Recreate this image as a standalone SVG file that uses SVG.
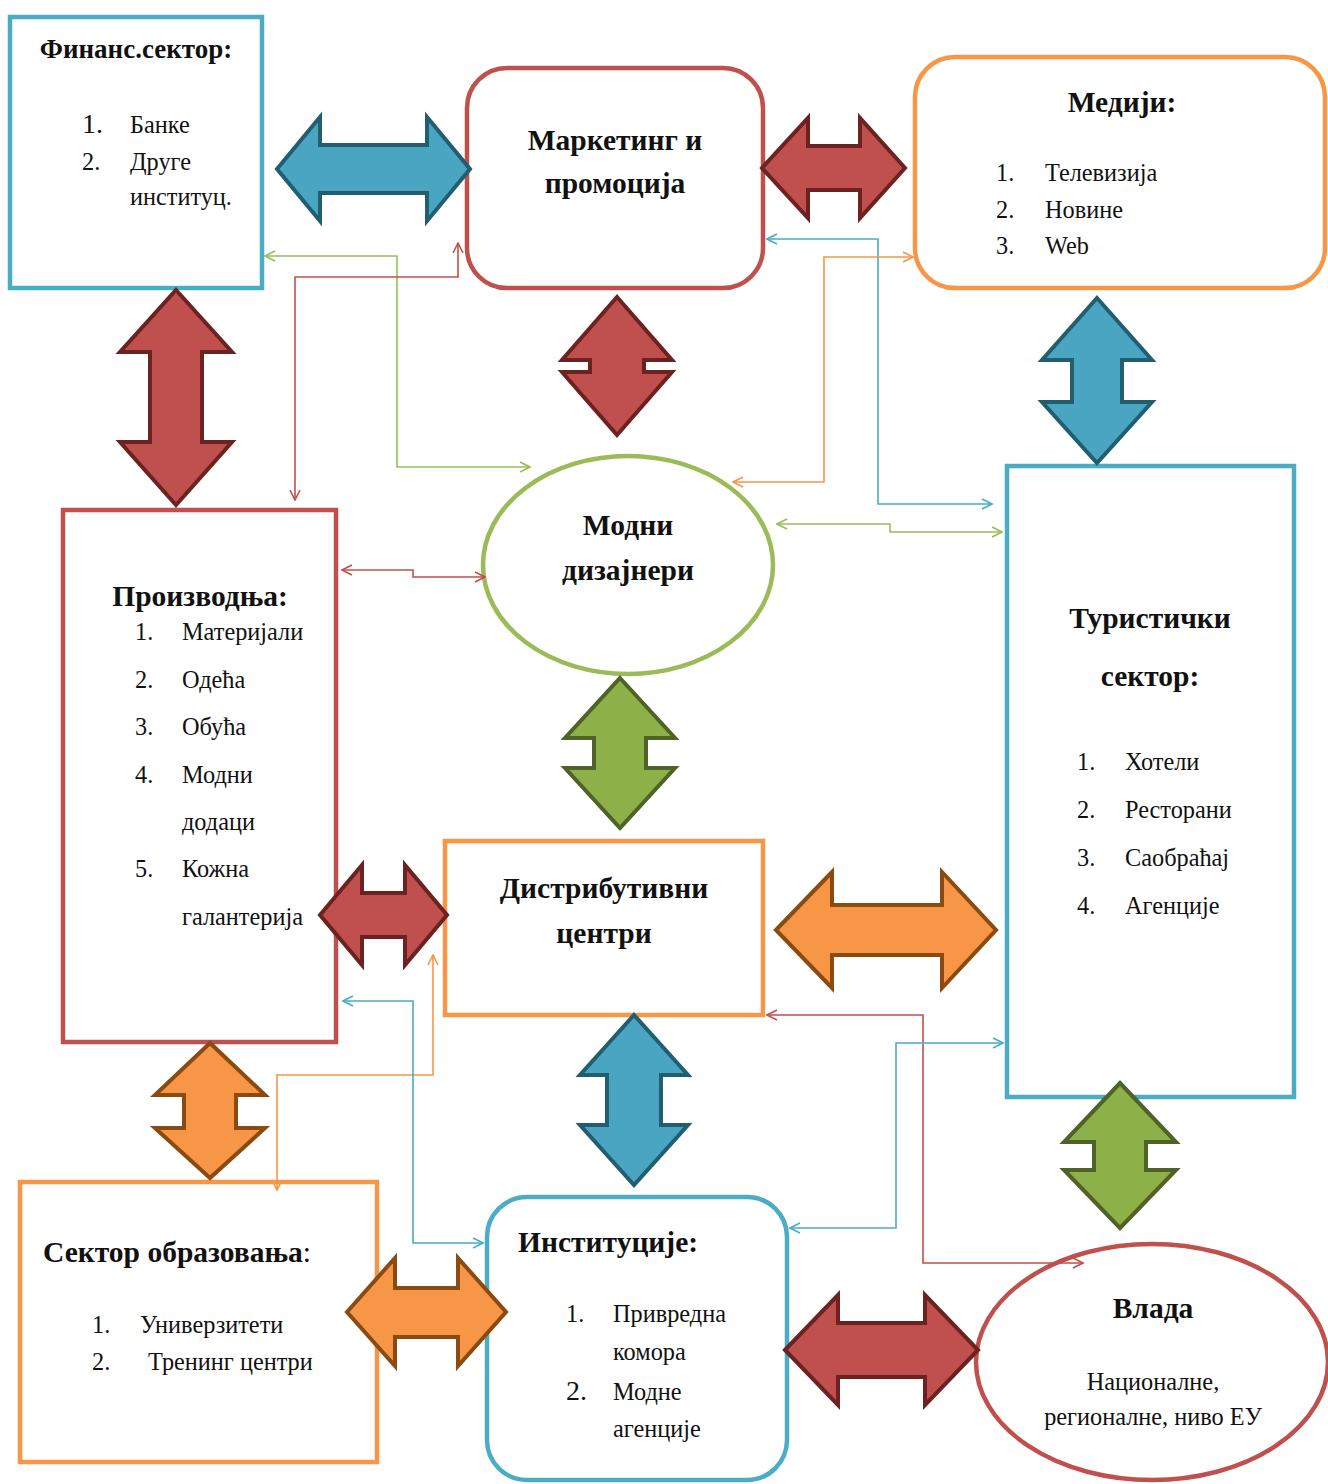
<svg xmlns="http://www.w3.org/2000/svg" width="1328" height="1484" viewBox="0 0 1328 1484">
<style>
.t{font-family:"Liberation Serif","Times New Roman",serif;fill:#111}
.b{font-weight:bold;font-size:29.5px}
.n{font-size:24.3px}
.box{fill:#fff;stroke-width:4.5}
.blue{stroke:#4bacc6}.red{stroke:#c0504d}.orange{stroke:#f79646}.green{stroke:#9bbb59}
.ab{stroke-width:4;stroke-linejoin:miter}
.abBlue{fill:#4aa5c2;stroke:#215e70}
.abRed{fill:#c0504d;stroke:#6b2220}
.abGreen{fill:#8db048;stroke:#4f6228}
.abOrange{fill:#f79646;stroke:#8a4a10}
.c{fill:none;stroke-width:1.6}
</style>
<defs>
<marker id="mB" viewBox="0 0 12 12" refX="11" refY="6" markerWidth="12" markerHeight="12" markerUnits="userSpaceOnUse" orient="auto-start-reverse"><path d="M1,1 L11,6 L1,11" fill="none" stroke="#4bacc6" stroke-width="1.6"/></marker>
<marker id="mR" viewBox="0 0 12 12" refX="11" refY="6" markerWidth="12" markerHeight="12" markerUnits="userSpaceOnUse" orient="auto-start-reverse"><path d="M1,1 L11,6 L1,11" fill="none" stroke="#c0504d" stroke-width="1.6"/></marker>
<marker id="mG" viewBox="0 0 12 12" refX="11" refY="6" markerWidth="12" markerHeight="12" markerUnits="userSpaceOnUse" orient="auto-start-reverse"><path d="M1,1 L11,6 L1,11" fill="none" stroke="#9bbb59" stroke-width="1.6"/></marker>
<marker id="mO" viewBox="0 0 12 12" refX="11" refY="6" markerWidth="12" markerHeight="12" markerUnits="userSpaceOnUse" orient="auto-start-reverse"><path d="M1,1 L11,6 L1,11" fill="none" stroke="#f79646" stroke-width="1.6"/></marker>
</defs>
<rect width="1328" height="1484" fill="#fff"/>

<g id="node-finans">
<rect class="box blue" x="10" y="17" width="252" height="271"/>
<text class="t b" x="136" y="58" text-anchor="middle" style="font-size:27px">Финанс.сектор:</text>
<text class="t n" x="82" y="133" style="font-size:28px">1.</text><text class="t n" x="130" y="133">Банке</text>
<text class="t n" x="82" y="170">2.</text><text class="t n" x="130" y="170">Друге</text>
<text class="t n" x="130" y="205">институц.</text>
</g>

<g id="node-marketing">
<rect class="box red" x="467" y="68" width="296" height="220" rx="40"/>
<text class="t b" x="615" y="150" text-anchor="middle">Маркетинг и</text>
<text class="t b" x="615" y="193" text-anchor="middle">промоција</text>
</g>

<g id="node-mediji">
<rect class="box orange" x="915" y="57" width="410" height="231" rx="40"/>
<text class="t b" x="1122" y="112" text-anchor="middle">Медији:</text>
<text class="t n" x="996" y="181">1.</text><text class="t n" x="1045" y="181">Телевизија</text>
<text class="t n" x="996" y="218">2.</text><text class="t n" x="1045" y="218">Новине</text>
<text class="t n" x="996" y="254">3.</text><text class="t n" x="1045" y="254">Web</text>
</g>

<g id="node-proizvodnja">
<rect class="box red" x="63" y="510" width="273" height="532"/>
<text class="t b" x="200" y="606" text-anchor="middle">Производња:</text>
<text class="t n" x="135" y="640">1.</text><text class="t n" x="182" y="640">Материјали</text>
<text class="t n" x="135" y="688">2.</text><text class="t n" x="182" y="688">Одећа</text>
<text class="t n" x="135" y="735">3.</text><text class="t n" x="182" y="735">Обућа</text>
<text class="t n" x="135" y="783">4.</text><text class="t n" x="182" y="783">Модни</text>
<text class="t n" x="182" y="830">додаци</text>
<text class="t n" x="135" y="877">5.</text><text class="t n" x="182" y="877">Кожна</text>
<text class="t n" x="182" y="925">галантерија</text>
</g>

<g id="node-modni">
<ellipse cx="628" cy="565" rx="145" ry="109" fill="#fff" stroke="#9bbb59" stroke-width="4.5"/>
<text class="t b" x="628" y="535" text-anchor="middle">Модни</text>
<text class="t b" x="628" y="580" text-anchor="middle">дизајнери</text>
</g>

<g id="node-turisticki">
<rect class="box blue" x="1007" y="466" width="287" height="631"/>
<text class="t b" x="1150" y="628" text-anchor="middle">Туристички</text>
<text class="t b" x="1150" y="686" text-anchor="middle">сектор:</text>
<text class="t n" x="1077" y="770">1.</text><text class="t n" x="1125" y="770">Хотели</text>
<text class="t n" x="1077" y="818">2.</text><text class="t n" x="1125" y="818">Ресторани</text>
<text class="t n" x="1077" y="866">3.</text><text class="t n" x="1125" y="866">Саобраћај</text>
<text class="t n" x="1077" y="914">4.</text><text class="t n" x="1125" y="914">Агенције</text>
</g>

<g id="node-distributivni">
<rect class="box orange" x="445" y="841" width="318" height="174"/>
<text class="t b" x="604" y="898" text-anchor="middle">Дистрибутивни</text>
<text class="t b" x="604" y="943" text-anchor="middle">центри</text>
</g>

<g id="node-obrazovanje">
<rect class="box orange" x="20" y="1182" width="357" height="280"/>
<text class="t b" x="43" y="1262">Сектор образовања<tspan font-weight="normal">:</tspan></text>
<text class="t n" x="92" y="1333">1.</text><text class="t n" x="140" y="1333">Универзитети</text>
<text class="t n" x="92" y="1370">2.</text><text class="t n" x="148" y="1370">Тренинг центри</text>
</g>

<g id="node-institucije">
<rect class="box blue" x="487" y="1197" width="300" height="283" rx="40"/>
<text class="t b" x="518" y="1252">Институције:</text>
<text class="t n" x="566" y="1322">1.</text><text class="t n" x="613" y="1322">Привредна</text>
<text class="t n" x="613" y="1360">комора</text>
<text class="t n" x="566" y="1400" style="font-size:28px">2.</text><text class="t n" x="613" y="1400">Модне</text>
<text class="t n" x="613" y="1437">агенције</text>
</g>

<g id="node-vlada">
<ellipse cx="1152" cy="1362" rx="176" ry="118" fill="#fff" stroke="#c0504d" stroke-width="4.5"/>
<text class="t b" x="1153" y="1318" text-anchor="middle">Влада</text>
<text class="t n" x="1153" y="1390" text-anchor="middle">Националне,</text>
<text class="t n" x="1153" y="1425" text-anchor="middle">регионалне, ниво ЕУ</text>
</g>

<g id="block-arrows">
<polygon class="ab abBlue" points="277,169 320,117 320,145 427,145 427,117 470,169 427,221 427,193 320,193 320,221"/>
<polygon class="ab abRed" points="762,168 808,118 808,146 860,146 860,118 905,168 860,218 860,190 808,190 808,218"/>
<polygon class="ab abRed" points="176,290 232,352 202,352 202,442 232,442 176,505 120,442 150,442 150,352 120,352"/>
<polygon class="ab abRed" points="617,297 672,360 644,360 644,372 672,372 617,435 562,372 590,372 590,360 562,360"/>
<polygon class="ab abBlue" points="1097,298 1152,360 1122,360 1122,402 1152,402 1097,463 1042,402 1072,402 1072,360 1042,360"/>
<polygon class="ab abGreen" points="620,678 675,738 646,738 646,768 675,768 620,828 565,768 594,768 594,738 565,738"/>
<polygon class="ab abRed" points="320,915 362,865 362,893 405,893 405,865 447,915 405,965 405,937 362,937 362,965"/>
<polygon class="ab abOrange" points="776,930 832,872 832,905 942,905 942,872 996,930 942,988 942,955 832,955 832,988"/>
<polygon class="ab abBlue" points="634,1015 688,1075 661,1075 661,1125 688,1125 634,1185 580,1125 607,1125 607,1075 580,1075"/>
<polygon class="ab abOrange" points="210,1043 265,1095 236,1095 236,1128 265,1128 210,1178 155,1128 184,1128 184,1095 155,1095"/>
<polygon class="ab abGreen" points="1120,1083 1176,1142 1146,1142 1146,1170 1176,1170 1120,1228 1064,1170 1094,1170 1094,1142 1064,1142"/>
<polygon class="ab abOrange" points="347,1312 395,1258 395,1288 458,1288 458,1258 506,1312 458,1366 458,1337 395,1337 395,1366"/>
<polygon class="ab abRed" points="785,1350 838,1295 838,1323 925,1323 925,1295 978,1350 925,1405 925,1377 838,1377 838,1405"/>
</g>

<g id="connectors">
<path class="c green" d="M265,256 H397 V467 H530" marker-start="url(#mG)" marker-end="url(#mG)"/>
<path class="c red" d="M458,243 V277 H295 V500" marker-start="url(#mR)" marker-end="url(#mR)"/>
<path class="c blue" d="M767,239 H878 V504 H992" marker-start="url(#mB)" marker-end="url(#mB)"/>
<path class="c orange" d="M913,257 H824 V482 H733" marker-start="url(#mO)" marker-end="url(#mO)"/>
<path class="c green" d="M777,524 H890 V532 H1002" marker-start="url(#mG)" marker-end="url(#mG)"/>
<path class="c red" d="M342,570 H413 V577 H485" marker-start="url(#mR)" marker-end="url(#mR)"/>
<path class="c orange" d="M277,1190 V1075 H433 V955" marker-start="url(#mO)" marker-end="url(#mO)"/>
<path class="c blue" d="M343,1001 H413 V1243 H483" marker-start="url(#mB)" marker-end="url(#mB)"/>
<path class="c red" d="M767,1015 H923 V1263 H1083" marker-start="url(#mR)" marker-end="url(#mR)"/>
<path class="c blue" d="M790,1228 H896 V1043 H1003" marker-start="url(#mB)" marker-end="url(#mB)"/>
</g>
</svg>
